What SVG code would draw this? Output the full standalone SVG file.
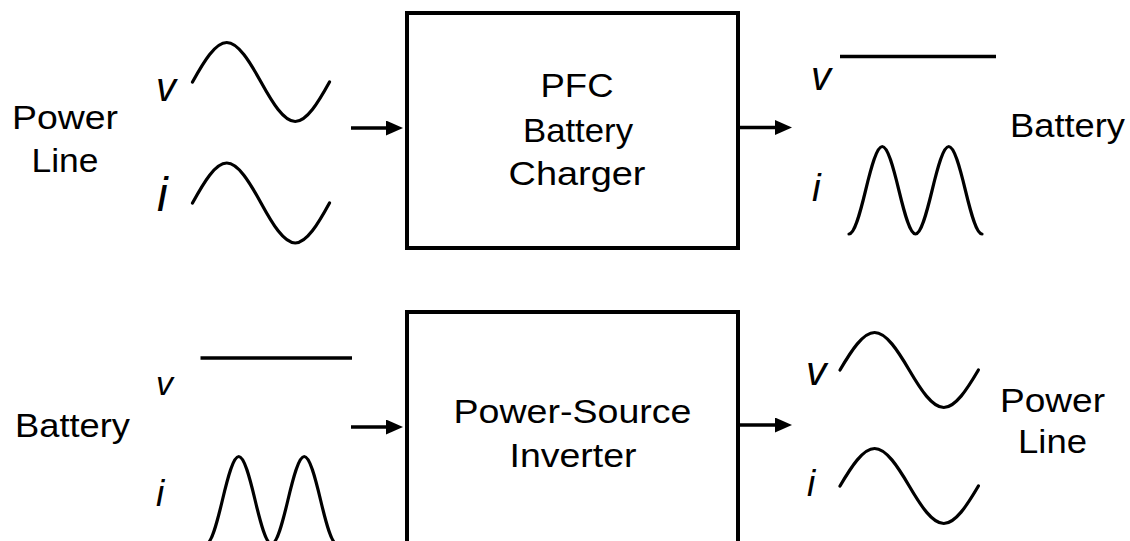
<svg xmlns="http://www.w3.org/2000/svg" width="1130" height="541" viewBox="0 0 1130 541">
<defs>
<style>
.box{fill:#fff;stroke:#000;stroke-width:4}
.wave{fill:none;stroke:#000;stroke-width:3.2;stroke-linecap:round}
.flat{fill:none;stroke:#000;stroke-width:3.5}
.conn{fill:none;stroke:#000;stroke-width:3.5}
.lbl{font-family:"Liberation Sans",Arial,sans-serif;font-size:34px;fill:#000;text-anchor:middle}
.var{font-family:"Liberation Sans",Arial,sans-serif;font-style:italic;fill:#000}
</style>
<marker id="arr" markerUnits="userSpaceOnUse" markerWidth="17" markerHeight="15" viewBox="0 0 17 15" refX="4" refY="7.5" orient="auto">
<path d="M0,0 L17,7.5 L0,15 Z" fill="#000"/>
</marker>
</defs>
<rect width="1130" height="541" fill="#fff"/>

<g id="power-line-in">
<text class="lbl" x="65" y="129" textLength="106" lengthAdjust="spacingAndGlyphs">Power</text>
<text class="lbl" x="65" y="172" textLength="67" lengthAdjust="spacingAndGlyphs">Line</text>
<text class="var" x="156" y="101" font-size="40">v</text>
<text class="var" x="157" y="211" font-size="48">i</text>
<path class="wave" d="M192.5,82 C203.92,61.32 215.33,42.5 226.75,42.5 C238.17,42.5 249.58,61.32 261,82 C272.42,102.68 283.83,121.5 295.25,121.5 C306.67,121.5 318.08,102.68 329.5,82"/>
<path class="wave" d="M192.5,203 C203.92,182.06 215.33,163 226.75,163 C238.17,163 249.58,182.06 261,203 C272.42,223.94 283.83,243 295.25,243 C306.67,243 318.08,223.94 329.5,203"/>
</g>

<g id="pfc-charger">
<rect class="box" x="407" y="13" width="331" height="235"/>
<text class="lbl" x="577" y="97" textLength="73" lengthAdjust="spacingAndGlyphs">PFC</text>
<text class="lbl" x="578" y="142" textLength="110" lengthAdjust="spacingAndGlyphs">Battery</text>
<text class="lbl" x="577" y="185" textLength="137" lengthAdjust="spacingAndGlyphs">Charger</text>
</g>

<g id="battery-out">
<text class="var" x="811" y="90" font-size="40">v</text>
<text class="var" x="812" y="201" font-size="39">i</text>
<line class="flat" x1="840" y1="56.5" x2="996" y2="56.5"/>
<path class="wave" d="M849,234 C854.54,234 860.08,213.16 865.63,190.25 C871.17,167.34 876.71,146.5 882.25,146.5 C887.79,146.5 893.33,167.34 898.88,190.25 C904.42,213.16 909.96,234 915.5,234 C921.04,234 926.58,213.16 932.13,190.25 C937.67,167.34 943.21,146.5 948.75,146.5 C954.29,146.5 959.83,167.34 965.38,190.25 C970.92,213.16 976.46,234 982,234"/>
<text class="lbl" x="1067.5" y="137" textLength="115" lengthAdjust="spacingAndGlyphs">Battery</text>
</g>

<g id="battery-in">
<text class="lbl" x="72.5" y="437" textLength="115" lengthAdjust="spacingAndGlyphs">Battery</text>
<text class="var" x="156" y="395" font-size="34">v</text>
<text class="var" x="156" y="506" font-size="37">i</text>
<line class="flat" x1="200.5" y1="358" x2="352" y2="358"/>
<path class="wave" d="M206,544 C211.46,544 216.92,523.16 222.38,500.25 C227.83,477.34 233.29,456.5 238.75,456.5 C244.21,456.5 249.67,477.34 255.13,500.25 C260.58,523.16 266.04,544 271.5,544 C276.96,544 282.42,523.16 287.88,500.25 C293.33,477.34 298.79,456.5 304.25,456.5 C309.71,456.5 315.17,477.34 320.63,500.25 C326.08,523.16 331.54,544 337,544"/>
</g>

<g id="inverter">
<rect class="box" x="407" y="312" width="331" height="260"/>
<text class="lbl" x="572.5" y="423" textLength="238" lengthAdjust="spacingAndGlyphs">Power-Source</text>
<text class="lbl" x="573" y="467" textLength="127" lengthAdjust="spacingAndGlyphs">Inverter</text>
</g>

<g id="power-line-out">
<text class="var" x="806" y="385" font-size="41">v</text>
<text class="var" x="807" y="496" font-size="37">i</text>
<path class="wave" d="M840,370 C851.53,350.36 863.07,332.5 874.6,332.5 C886.13,332.5 897.67,350.36 909.2,370 C920.73,389.64 932.27,407.5 943.8,407.5 C955.33,407.5 966.87,389.64 978.4,370"/>
<path class="wave" d="M840,486 C851.53,466.36 863.07,448.5 874.6,448.5 C886.13,448.5 897.67,466.36 909.2,486 C920.73,505.64 932.27,523.5 943.8,523.5 C955.33,523.5 966.87,505.64 978.4,486"/>
<text class="lbl" x="1052.5" y="412" textLength="105" lengthAdjust="spacingAndGlyphs">Power</text>
<text class="lbl" x="1052.5" y="453" textLength="69" lengthAdjust="spacingAndGlyphs">Line</text>
</g>

<g id="connectors">
<line class="conn" x1="351" y1="128" x2="390" y2="128" marker-end="url(#arr)"/>
<line class="conn" x1="740" y1="127.5" x2="779" y2="127.5" marker-end="url(#arr)"/>
<line class="conn" x1="351" y1="427" x2="390" y2="427" marker-end="url(#arr)"/>
<line class="conn" x1="740" y1="425" x2="779" y2="425" marker-end="url(#arr)"/>
</g>
</svg>
